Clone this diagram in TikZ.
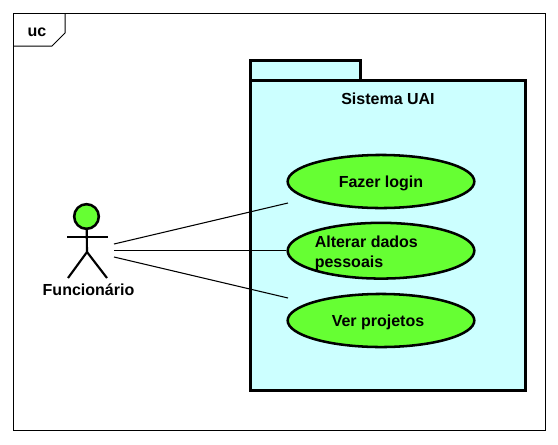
\documentclass[tikz,border=0pt]{standalone}
\usepackage{fontspec}
\setmainfont{Liberation Sans}
\usetikzlibrary{shapes.geometric}
\definecolor{pacote}{HTML}{CCFFFF}
\definecolor{caso}{HTML}{66FF33}
\tikzset{
  rotulo/.style={font=\fontsize{12}{15}\selectfont\bfseries, inner sep=0pt},
  usecase/.style={rotulo, draw, ellipse, fill=caso, line width=1.9pt, minimum width=140pt, minimum height=39.8pt, inner sep=0pt, text height=8.6pt, text depth=0pt},
  pacoteline/.style={draw, fill=pacote, line width=2.25pt},
  ator/.style={line width=1.6pt},
  ligacao/.style={line width=0.8pt}
}
\begin{document}
\begin{tikzpicture}[x=0.75pt, y=-0.75pt]
    \useasboundingbox (0,0) rectangle (558,444);

    % moldura uc
    \draw[line width=0.75pt] (13.5,13.5) rectangle (545.5,430.5);
    \draw[line width=0.75pt] (13.5,46) -- (52,46) -- (65,33) -- (65,13.5);
    \node[rotulo, anchor=base] (uc) at (37,36.7) {uc};

    % pacote
    \draw[pacoteline] (250.5,80.5) -- (250.5,60.5) -- (360,60.5) -- (360,80.5) -- cycle;
    \draw[pacoteline] (250.5,80.5) rectangle (525,390);
    \node[rotulo, anchor=base] (sistema) at (388,104) {Sistema UAI};

    % casos de uso
    \node[usecase] (login) at (381,181.5) {Fazer login};
    \node[usecase, minimum height=41.8pt] (alterar) at (381,250.7) {};
    \node[rotulo, align=left, anchor=west] (alterartxt) at (314.5,253) {Alterar dados\\pessoais};
    \node[usecase] (ver) at (381,320.5) {Ver projetos\hspace*{4.5pt}};

    % ator
    \node[circle, draw, fill=caso, line width=1.9pt, minimum size=18.5pt, inner sep=0pt] (cabeca) at (86.5,216.5) {};
    \coordinate (quadril) at (87,252);
    \coordinate (bracoE) at (67,237);
    \coordinate (bracoD) at (108,237);
    \coordinate (peE) at (68,278);
    \coordinate (peD) at (107,278);
    \draw[ator] (cabeca) -- (quadril);
    \draw[ator] (bracoE) -- (bracoD);
    \draw[ator] (peE) -- (quadril) -- (peD);
    \node[rotulo, anchor=base] (funcionario) at (88.5,295) {Funcionário};

    % ligacoes
    \coordinate (a1) at (114,244);
    \coordinate (a2) at (114,250.5);
    \coordinate (a3) at (114,257);
    \coordinate (b1) at (288,203);
    \coordinate (b3) at (288,298);
    \draw[ligacao] (a1) -- (b1);
    \draw[ligacao] (a2) -- (alterar.west |- a2);
    \draw[ligacao] (a3) -- (b3);
\end{tikzpicture}
\end{document}
